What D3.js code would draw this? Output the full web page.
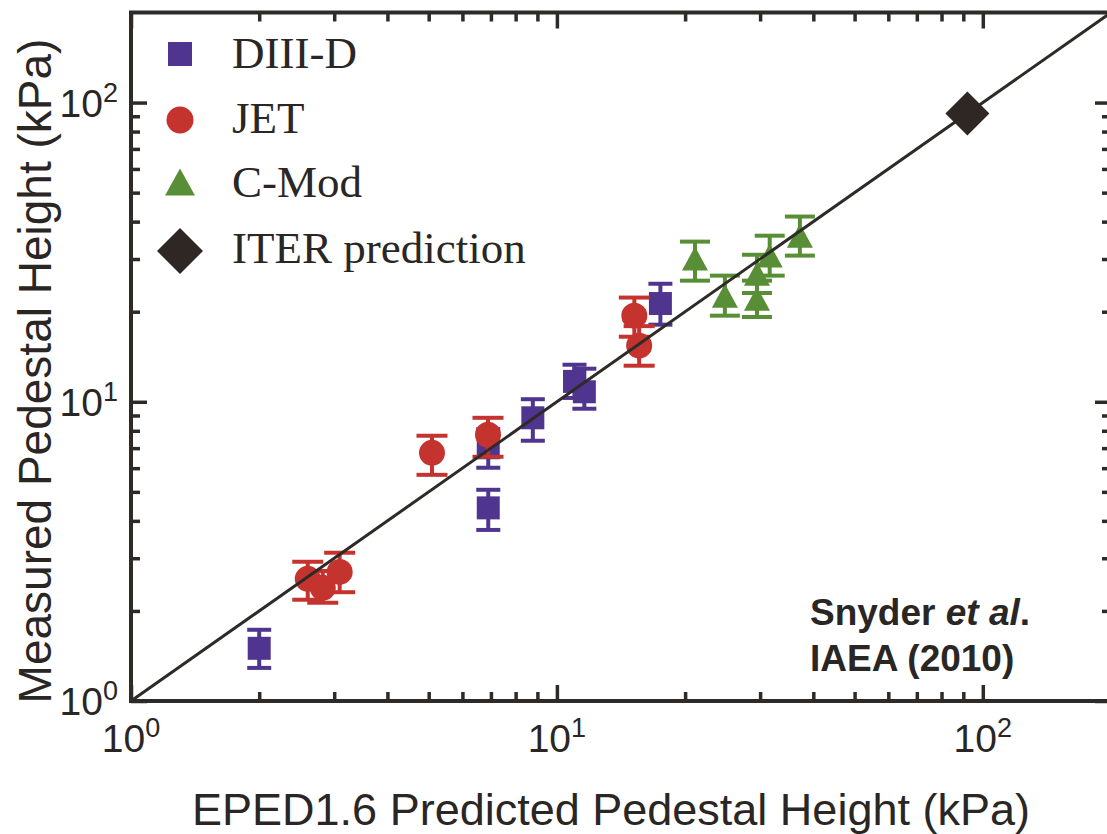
<!DOCTYPE html>
<html lang="en">
<head>
    <meta charset="UTF-8">
    <title>EPED1.6 vs measured pedestal height</title>
    <script src="https://cdn.jsdelivr.net/npm/d3@7"></script>
    <style>
        body{
            margin: 0;
            background: #fff;
        }
        svg text{
            fill: #2a2624;
        }
    </style>
</head>
<body>
<svg id="main" width="1107" height="834"></svg>
<script>

    // data: x = EPED1.6 prediction, y = measured, lo/hi = error bar ends (kPa)
    const diiid = [
        {x: 2.0,  y: 1.50, lo: 1.29, hi: 1.73},
        {x: 6.9,  y: 4.42, lo: 3.73, hi: 5.08},
        {x: 6.9,  y: 7.02, lo: 6.02, hi: 8.1},
        {x: 8.78, y: 8.84, lo: 7.41, hi: 10.2},
        {x: 11.0, y: 11.7, lo: 10.3, hi: 13.3},
        {x: 11.6, y: 10.8, lo: 9.48, hi: 12.9},
        {x: 17.5, y: 21.3, lo: 18.1, hi: 24.8}
    ];
    const jet = [
        {x: 2.60, y: 2.56, lo: 2.18, hi: 2.92},
        {x: 2.82, y: 2.39, lo: 2.13, hi: 2.72},
        {x: 3.09, y: 2.70, lo: 2.31, hi: 3.13},
        {x: 5.09, y: 6.75, lo: 5.70, hi: 7.70},
        {x: 6.89, y: 7.76, lo: 6.55, hi: 8.84},
        {x: 15.2, y: 19.4, lo: 16.5, hi: 22.3},
        {x: 15.6, y: 15.4, lo: 13.2, hi: 17.9}
    ];
    const cmod = [
        {x: 21.1, y: 30.1, lo: 25.4, hi: 34.3},
        {x: 24.8, y: 22.6, lo: 19.4, hi: 26.4},
        {x: 29.5, y: 22.1, lo: 19.2, hi: 25.4},
        {x: 29.5, y: 26.8, lo: 23.1, hi: 31.0},
        {x: 31.6, y: 30.8, lo: 26.4, hi: 35.9},
        {x: 37.2, y: 35.9, lo: 30.8, hi: 41.6}
    ];
    const iter = [{x: 92, y: 92}];

    const legendNames = ['DIII-D', 'JET', 'C-Mod', 'ITER prediction'];
    const majorTicks = [1, 10, 100];
    const tickExponents = ['0', '1', '2'];
    const minorTicks = [2, 3, 4, 5, 6, 7, 8, 9, 20, 30, 40, 50, 60, 70, 80, 90];

    const colors = {
        diiid: '#4f358f',
        jet: '#c5332f',
        cmod: '#588e35',
        iter: '#2e2724',
        ink: '#2e2a27'
    };

    const plot = {left: 131, right: 1111, top: 12.5, bottom: 701};

    const x = d3.scaleLog().domain([1, 200]).range([plot.left, plot.right]);
    const y = d3.scaleLog().domain([1, 200]).range([plot.bottom, plot.top]);

    const svg = d3.select('svg#main');

    // marker shapes
    const shapes = {
        square: s => `M${-s/2},${-s/2}h${s}v${s}h${-s}Z`,
        circle: r => `M${-r},0a${r},${r} 0 1,0 ${2*r},0a${r},${r} 0 1,0 ${-2*r},0Z`,
        triangle: (w, h) => `M0,${-h/2}L${w/2},${h/2}L${-w/2},${h/2}Z`,
        diamond: s => `M0,${-s}L${s},0L0,${s}L${-s},0Z`
    };

    // axes: inward ticks on all four sides
    function ticks(axis, values, size, tx, ty){
        const g = svg.append('g')
            .attr('transform', `translate(${tx},${ty})`)
            .call(axis.tickValues(values).tickSize(-size).tickFormat(''));
        g.select('.domain').remove();
        g.selectAll('line').attr('stroke', colors.ink).attr('stroke-width', 3.5);
    }
    ticks(d3.axisBottom(x), minorTicks, 9, 0, plot.bottom);
    ticks(d3.axisBottom(x), majorTicks, 16, 0, plot.bottom);
    ticks(d3.axisTop(x), minorTicks, 9, 0, plot.top);
    ticks(d3.axisTop(x), majorTicks, 16, 0, plot.top);
    ticks(d3.axisLeft(y), minorTicks, 9, plot.left, 0);
    ticks(d3.axisLeft(y), majorTicks, 16, plot.left, 0);
    ticks(d3.axisRight(y), minorTicks, 9, plot.right, 0);
    ticks(d3.axisRight(y), majorTicks, 16, plot.right, 0);

    svg.append('rect')
        .attr('x', plot.left).attr('y', plot.top)
        .attr('width', plot.right - plot.left)
        .attr('height', plot.bottom - plot.top)
        .attr('fill', 'none')
        .attr('stroke', colors.ink)
        .attr('stroke-width', 4);

    // tick labels 10^n
    const tickFont = 'Liberation Sans, Arial, sans-serif';
    const xl = svg.append('g').selectAll('text')
        .data(majorTicks)
        .enter()
        .append('text')
        .attr('x', d => x(d))
        .attr('y', 752)
        .attr('text-anchor', 'middle')
        .attr('font-family', tickFont)
        .attr('font-size', 39);
    xl.append('tspan').text('10');
    xl.append('tspan').attr('dy', -15).attr('font-size', 27).text((d, i) => tickExponents[i]);

    const yl = svg.append('g').selectAll('text')
        .data(majorTicks)
        .enter()
        .append('text')
        .attr('x', 118)
        .attr('y', d => y(d) + 14)
        .attr('text-anchor', 'end')
        .attr('font-family', tickFont)
        .attr('font-size', 39);
    yl.append('tspan').text('10');
    yl.append('tspan').attr('dy', -15).attr('font-size', 27).text((d, i) => tickExponents[i]);

    // axis titles
    svg.append('text')
        .attr('x', 611).attr('y', 825)
        .attr('text-anchor', 'middle')
        .attr('font-family', tickFont)
        .attr('font-size', 45)
        .text('EPED1.6 Predicted Pedestal Height (kPa)');

    svg.append('text')
        .attr('transform', 'translate(51,371) rotate(-90)')
        .attr('text-anchor', 'middle')
        .attr('font-family', tickFont)
        .attr('font-size', 46)
        .text('Measured Pedestal Height (kPa)');

    // error bars + markers
    function series(data, color, capW, marker){
        const g = svg.append('g').attr('fill', color).attr('stroke', color);
        const bars = g.selectAll('.err')
            .data(data)
            .enter()
            .append('g');
        bars.append('line')
            .attr('x1', d => x(d.x)).attr('x2', d => x(d.x))
            .attr('y1', d => y(d.lo)).attr('y2', d => y(d.hi))
            .attr('stroke-width', 4);
        bars.append('line')
            .attr('x1', d => x(d.x) - capW/2).attr('x2', d => x(d.x) + capW/2)
            .attr('y1', d => y(d.lo)).attr('y2', d => y(d.lo))
            .attr('stroke-width', 4);
        bars.append('line')
            .attr('x1', d => x(d.x) - capW/2).attr('x2', d => x(d.x) + capW/2)
            .attr('y1', d => y(d.hi)).attr('y2', d => y(d.hi))
            .attr('stroke-width', 4);
        g.selectAll('.mark')
            .data(data)
            .enter()
            .append('path')
            .attr('stroke', 'none')
            .attr('transform', d => `translate(${x(d.x)},${y(d.y)})`)
            .attr('d', marker);
    }
    series(diiid, colors.diiid, 24, shapes.square(23));
    series(jet, colors.jet, 31, shapes.circle(13));
    series(cmod, colors.cmod, 30, shapes.triangle(26, 24));

    // y = x line
    const line = d3.line().x(d => x(d)).y(d => y(d));
    svg.append('path')
        .attr('d', line([1, 200]))
        .attr('stroke', colors.ink)
        .attr('stroke-width', 3)
        .attr('fill', 'none');

    svg.append('g').selectAll('path')
        .data(iter)
        .enter()
        .append('path')
        .attr('fill', colors.iter)
        .attr('transform', d => `translate(${x(d.x)},${y(d.y)})`)
        .attr('d', shapes.diamond(22));

    // legend
    const legendMarks = [
        {d: shapes.square(24), c: colors.diiid},
        {d: shapes.circle(13.5), c: colors.jet},
        {d: shapes.triangle(30, 27), c: colors.cmod},
        {d: shapes.diamond(23), c: colors.iter}
    ];
    const legendRows = [54, 120, 182, 251];
    const leg = svg.append('g');
    leg.selectAll('path')
        .data(legendMarks)
        .enter()
        .append('path')
        .attr('transform', (d, i) => `translate(180,${legendRows[i]})`)
        .attr('fill', d => d.c)
        .attr('d', d => d.d);
    leg.selectAll('text')
        .data(legendNames)
        .enter()
        .append('text')
        .attr('x', 232)
        .attr('y', (d, i) => [68, 133, 197, 263][i])
        .attr('font-family', 'Liberation Serif, Times New Roman, serif')
        .attr('font-size', 45)
        .text(d => d);

    // citation
    const cite = svg.append('text')
        .attr('x', 810).attr('y', 625)
        .attr('font-family', tickFont)
        .attr('font-weight', 'bold')
        .attr('font-size', 37);
    cite.append('tspan').text('Snyder ');
    cite.append('tspan').attr('font-style', 'italic').text('et al');
    cite.append('tspan').text('.');
    svg.append('text')
        .attr('x', 810).attr('y', 671)
        .attr('font-family', tickFont)
        .attr('font-weight', 'bold')
        .attr('font-size', 37)
        .text('IAEA (2010)');

</script>
</body>
</html>
